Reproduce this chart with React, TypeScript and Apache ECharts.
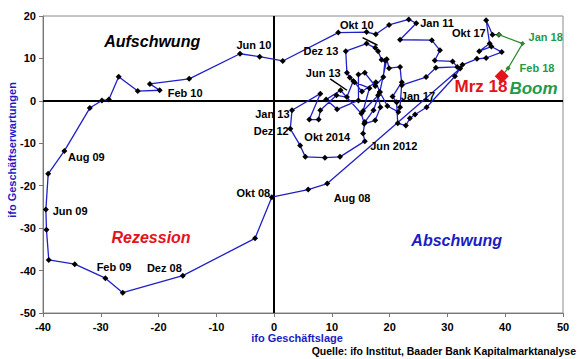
import React, { useEffect, useRef } from "react";
import * as echarts from "echarts";

// ifo Geschäftslage (x) and ifo Geschäftserwartungen (y), chronological path
const lage = [
  32.2, 9.2, 5.9, -0.4, -3.3, -15.8, -26.2, -29.2, -34.5, -39.0, -39.4, -39.5, -39.1, -36.3, -31.9, -29.8,
  -28.6, -26.9, -23.6, -19.8, -21.5, -14.7, -5.9, -2.5, 1.5, 11.1, 16.0, 17.6, 19.9, 23.3, 24.6, 21.8,
  27.3, 28.7, 27.8, 30.9, 31.7, 28.0, 26.3, 22.1, 21.8, 19.9, 19.5, 18.3, 17.2, 15.7, 15.4, 15.7,
  11.4, 8.8, 5.4, 4.5, 2.8, 3.1, 8.0, 6.1, 7.7, 8.0, 10.8, 12.6, 13.7, 13.1, 12.6, 12.4,
  16.0, 17.5, 18.0, 18.6, 19.2, 18.9, 17.5, 15.7, 14.6, 14.6, 10.9, 9.0, 11.5, 15.1, 15.6, 17.5,
  18.4, 18.0, 15.4, 16.5, 13.9, 15.2, 17.6, 18.3, 19.6, 21.5, 21.8, 22.1, 20.5, 21.2, 21.4, 22.8,
  23.5, 24.4, 26.4, 31.3, 32.6, 35.1, 36.7, 39.4, 37.6, 35.5, 37.3, 36.7, 37.8, 38.9,
];
const erwartungen = [
  7.6, -19.5, -20.9, -22.7, -32.4, -41.2, -45.2, -41.8, -38.5, -37.5, -30.4, -25.6, -17.2, -11.8, -1.7, 0.1,
  0.3, 5.7, 2.3, 2.5, 4.0, 5.2, 11.1, 10.4, 9.4, 16.1, 16.2, 15.7, 17.9, 19.2, 18.3, 14.4,
  14.3, 11.9, 9.5, 9.3, 8.0, 7.8, 5.6, 3.7, 8.0, 7.7, 9.8, 2.1, -2.2, -5.0, -7.7, -9.5,
  -13.2, -13.4, -13.2, -10.5, -6.6, -2.2, 1.7, -4.4, -4.4, -2.2, 1.3, 0.9, 4.7, 5.5, 6.6, 11.7,
  13.5, 12.5, 11.7, 9.7, 9.5, 5.6, 3.5, 6.6, 6.2, 0.1, -2.0, 0.3, 2.5, -3.0, -5.4, -4.6,
  -1.5, 1.3, -2.4, 3.0, 4.4, 2.2, 4.4, 2.1, -1.2, -2.6, -1.5, 4.4, 1.0, -0.3, -5.3, -5.8,
  -4.1, -3.2, -1.5, 5.8, 8.5, 9.9, 10.1, 11.5, 12.8, 11.7, 13.5, 19.0, 15.6, 15.6,
];

// latest months (green), ending at Mrz 18
const lageNeu = [38.9, 43.0, 40.5, 39.4];
const erwartungenNeu = [15.6, 13.5, 7.7, 5.8];

// month tags (centre of text, in data units)
const tagNames = [
  "Jun 10", "Okt 10", "Jan 11", "Okt 17", "Dez 13", "Jun 13", "Jan 13", "Dez 12", "Okt 2014",
  "Jan 17", "Jun 2012", "Feb 10", "Aug 09", "Jun 09", "Feb 09", "Dez 08", "Okt 08", "Aug 08",
];
const tagX = [-3.5, 14.3, 28.2, 33.7, 8.1, 8.5, -0.3, -0.5, 9.2, 24.9, 20.7, -15.4, -32.5, -35.3, -27.7, -19.0, -3.6, 13.5];
const tagY = [13.1, 17.8, 18.3, 15.9, 11.7, 6.5, -3.2, -7.2, -8.6, 1.1, -10.7, 1.8, -13.3, -26.0, -39.2, -39.5, -21.8, -23.0];

const greenTagNames = ["Jan 18", "Feb 18"];
const greenTagX = [47.0, 45.5];
const greenTagY = [15.0, 7.7];

const phaseNames = ["Aufschwung", "Rezession", "Abschwung", "Boom"];
const phaseX = [-21.1, -21.3, 31.6, 44.9];
const phaseY = [14.0, -32.2, -32.9, 2.8];

const markerName = "Mrz 18";
const markerX = 35.8;
const markerY = 3.4;

// pointer strokes for Okt 10 and Jun 13
const pointerOkt10 = [[15.3, 14.9], [17.9, 13.1]];
const pointerJun13 = [[9.7, 5.2], [12.6, 2.5]];

const xTicks = { min: -40, max: 50, step: 10 };
const yTicks = { min: -50, max: 20, step: 10 };

const FONT = "Arial, 'Liberation Sans', sans-serif";
const BLUE = "#1c1cc4";
const RED = "#e3121b";
const GREEN = "#1f9a4c";
const phaseColors = ["#000000", RED, BLUE, GREEN];

export default function App() {
  const ref = useRef<HTMLDivElement>(null);
  useEffect(() => {
    if (!ref.current) return;
    const chart = echarts.init(ref.current, null, { renderer: "svg" });
    const path = lage.map((x, i) => [x, erwartungen[i]]);
    const pathNeu = lageNeu.map((x, i) => [x, erwartungenNeu[i]]);
    const tagLabel = {
      show: true,
      position: "inside",
      color: "#000",
      fontFamily: FONT,
      fontWeight: "bold",
      fontSize: 11,
    };
    const textLayer = { type: "scatter", symbolSize: 0, z: 6, itemStyle: { opacity: 1 }, emphasis: { disabled: true } };
    const option: any = {
      animation: false,
      grid: {
        left: 43,
        right: 17,
        top: 16,
        bottom: 46,
        show: true,
        borderColor: "#8a8a8a",
        borderWidth: 1,
        outerBoundsMode: "none",
      },
      xAxis: {
        type: "value",
        min: xTicks.min,
        max: xTicks.max,
        interval: xTicks.step,
        axisLine: { onZero: false, lineStyle: { color: "#777", width: 1 } },
        axisTick: { show: true, length: 4, lineStyle: { color: "#777" } },
        splitLine: { show: false },
        axisLabel: { color: "#000", fontFamily: FONT, fontWeight: "bold", fontSize: 11, margin: 8 },
      },
      yAxis: {
        type: "value",
        min: yTicks.min,
        max: yTicks.max,
        interval: yTicks.step,
        axisLine: { show: true, onZero: false, lineStyle: { color: "#777", width: 1 } },
        axisTick: { show: true, length: 4, lineStyle: { color: "#777" } },
        splitLine: { show: false },
        axisLabel: { color: "#000", fontFamily: FONT, fontWeight: "bold", fontSize: 11, margin: 7 },
      },
      series: [
        {
          type: "line",
          data: path,
          symbol: "diamond",
          symbolSize: 6,
          itemStyle: { color: "#000" },
          lineStyle: { color: "#2020c8", width: 1.3 },
          z: 3,
          markLine: {
            silent: true,
            symbol: "none",
            label: { show: false },
            lineStyle: { color: "#000", width: 2, type: "solid" },
            data: [{ xAxis: 0 }, { yAxis: 0 }],
            z: 2,
          },
        },
        {
          type: "line",
          data: pathNeu,
          symbol: "diamond",
          symbolSize: 5,
          itemStyle: { color: "#2a8a2a" },
          lineStyle: { color: "#2a8a2a", width: 1.2 },
          z: 4,
        },
        {
          type: "scatter",
          data: [pathNeu[pathNeu.length - 1]],
          symbol: "diamond",
          symbolSize: 14,
          itemStyle: { color: RED, opacity: 1 },
          z: 5,
        },
        {
          type: "line",
          data: pointerOkt10,
          symbol: "none",
          lineStyle: { color: "#000", width: 1.5 },
          z: 5,
        },
        {
          type: "line",
          data: pointerJun13,
          symbol: "none",
          lineStyle: { color: "#000", width: 1.5 },
          z: 5,
        },
        {
          ...textLayer,
          data: tagNames.map((t, i) => ({ value: [tagX[i], tagY[i]], label: { ...tagLabel, formatter: t } })),
        },
        {
          ...textLayer,
          data: greenTagNames.map((t, i) => ({
            value: [greenTagX[i], greenTagY[i]],
            label: { ...tagLabel, color: GREEN, formatter: t },
          })),
        },
        {
          ...textLayer,
          data: [
            {
              value: [markerX, markerY],
              label: { ...tagLabel, color: RED, fontSize: 17, formatter: markerName },
            },
            ...phaseNames.map((t, i) => ({
              value: [phaseX[i], phaseY[i]],
              label: {
                ...tagLabel,
                color: phaseColors[i],
                fontStyle: "italic",
                fontSize: i === 3 ? 17 : 16,
                formatter: t,
              },
            })),
          ],
        },
      ],
      graphic: [
        {
          type: "text",
          x: 297,
          y: 338,
          style: {
            text: "ifo Geschäftslage",
            fill: BLUE,
            font: `bold 11px ${FONT}`,
            textAlign: "center",
            textVerticalAlign: "middle",
          },
        },
        {
          type: "text",
          x: 12,
          y: 150,
          rotation: Math.PI / 2,
          style: {
            text: "ifo Geschäftserwartungen",
            fill: BLUE,
            font: `bold 11px ${FONT}`,
            textAlign: "center",
            textVerticalAlign: "middle",
          },
        },
        {
          type: "text",
          x: 576,
          y: 351,
          style: {
            text: "Quelle: ifo Institut, Baader Bank Kapitalmarktanalyse",
            fill: "#000",
            font: `bold 10.5px ${FONT}`,
            textAlign: "right",
            textVerticalAlign: "middle",
          },
        },
      ],
    };
    chart.setOption(option);
    return () => chart.dispose();
  }, []);
  return <div ref={ref} style={{ width: 580, height: 359, position: "absolute", left: 0, top: 0 }} />;
}
